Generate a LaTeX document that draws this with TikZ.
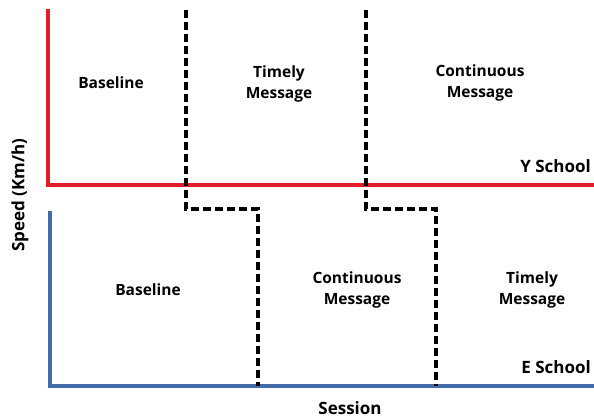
\documentclass[tikz,border=0pt]{standalone}
\usepackage{fontspec}
\setmainfont{Open Sans}
\usepackage{tikz}
\usetikzlibrary{calc}

\definecolor{yred}{RGB}{228,28,40}
\definecolor{eblue}{RGB}{66,108,168}

\begin{document}
\begin{tikzpicture}[x=1pt,y=-1pt,
	lbl/.style={font=\bfseries\fontsize{15.5}{21}\selectfont, align=center, inner sep=0pt},
	bigl/.style={font=\bfseries\fontsize{17}{20}\selectfont, inner sep=0pt},
	axisline/.style={line width=3.2pt, line cap=rect},
	phase/.style={line width=3.2pt, dash pattern=on 8pt off 4pt}]
	
	% ---- (A) frame of the picture ----
	\useasboundingbox (0,0) rectangle (594,418);
	
	% ---- (B) axes of the two schools ----
	\draw[axisline, yred] (48,11) -- (48,185) -- (594,185);
	\draw[axisline, eblue] (50,213) -- (50,386) -- (594,386);
	
	% ---- (C) dashed phase boundaries ----
	\draw[phase] (186,10) -- (186,209) -- (258,209) -- (258,386);
	\draw[phase] (366,10) -- (366,209) -- (436,209) -- (436,386);
	
	% ---- (D) Y school phases ----
	\node[lbl] (ybase) at (111,83) {Baseline};
	\node[lbl] (ytime) at (279,84) {Timely\\Message};
	\node[lbl] (ycont) at (480,83) {Continuous\\Message};
	\node[bigl, anchor=east] (yname) at (591,166) {Y School};
	
	% ---- (E) E school phases ----
	\node[lbl] (ebase) at (148,290) {Baseline};
	\node[lbl] (econt) at (357,290) {Continuous\\Message};
	\node[lbl] (etime) at (532,290) {Timely\\Message};
	\node[bigl, anchor=east] (ename) at (591,367) {E School};
	
	% ---- (F) axis titles ----
	\node[bigl] (xtitle) at (350,408) {Session};
	\node[bigl, rotate=90] (ytitle) at (20,195) {Speed (Km/h)};
	
\end{tikzpicture}
\end{document}
